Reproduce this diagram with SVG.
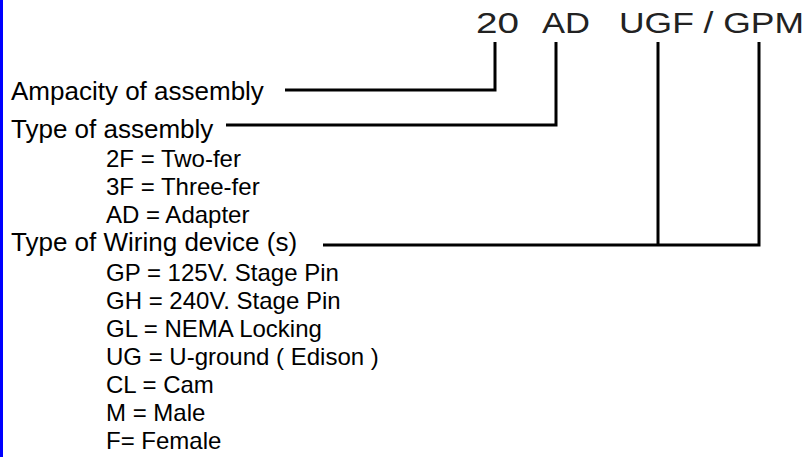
<svg xmlns="http://www.w3.org/2000/svg" width="805" height="457" viewBox="0 0 805 457">
<style>
.hdr{font-family:"Liberation Sans",Arial,sans-serif;font-size:26px;fill:#000}
.sub{font-family:"Liberation Sans",Arial,sans-serif;font-size:24px;fill:#000}
.code{font-family:"Liberation Sans",Arial,sans-serif;font-size:29.5px;fill:#222}
.conn{fill:none;stroke:#000;stroke-width:3;stroke-linejoin:miter;stroke-linecap:butt}
</style>
<rect x="0" y="0" width="805" height="457" fill="#fff"/>
<rect x="0" y="0" width="3" height="457" fill="#0000ff"/>
<g id="code">
<text class="code" x="476" y="32.5" textLength="43" lengthAdjust="spacingAndGlyphs">20</text>
<text class="code" x="542" y="32.5" textLength="48" lengthAdjust="spacingAndGlyphs">AD</text>
<text class="code" x="619" y="32.5" textLength="185" lengthAdjust="spacingAndGlyphs">UGF / GPM</text>
</g>
<g id="ampacity">
<text class="hdr" x="11" y="100">Ampacity of assembly</text>
</g>
<g id="assembly-type">
<text class="hdr" x="11" y="138">Type of assembly</text>
<text class="sub" x="106" y="167">2F = Two-fer</text>
<text class="sub" x="106" y="195">3F = Three-fer</text>
<text class="sub" x="106" y="223">AD = Adapter</text>
</g>
<g id="wiring-device">
<text class="hdr" x="11" y="251">Type of Wiring device (s)</text>
<text class="sub" x="106" y="281">GP = 125V. Stage Pin</text>
<text class="sub" x="106" y="309">GH = 240V. Stage Pin</text>
<text class="sub" x="106" y="337">GL = NEMA Locking</text>
<text class="sub" x="106" y="365">UG = U-ground ( Edison )</text>
<text class="sub" x="106" y="393">CL = Cam</text>
<text class="sub" x="106" y="421">M = Male</text>
<text class="sub" x="106" y="449">F= Female</text>
</g>
<g id="connectors">
<path class="conn" d="M285,90 H495 V42"/>
<path class="conn" d="M226,125 H556 V42"/>
<path class="conn" d="M323,245 H759 V42"/>
<path class="conn" d="M658,245 V42"/>
</g>
</svg>
